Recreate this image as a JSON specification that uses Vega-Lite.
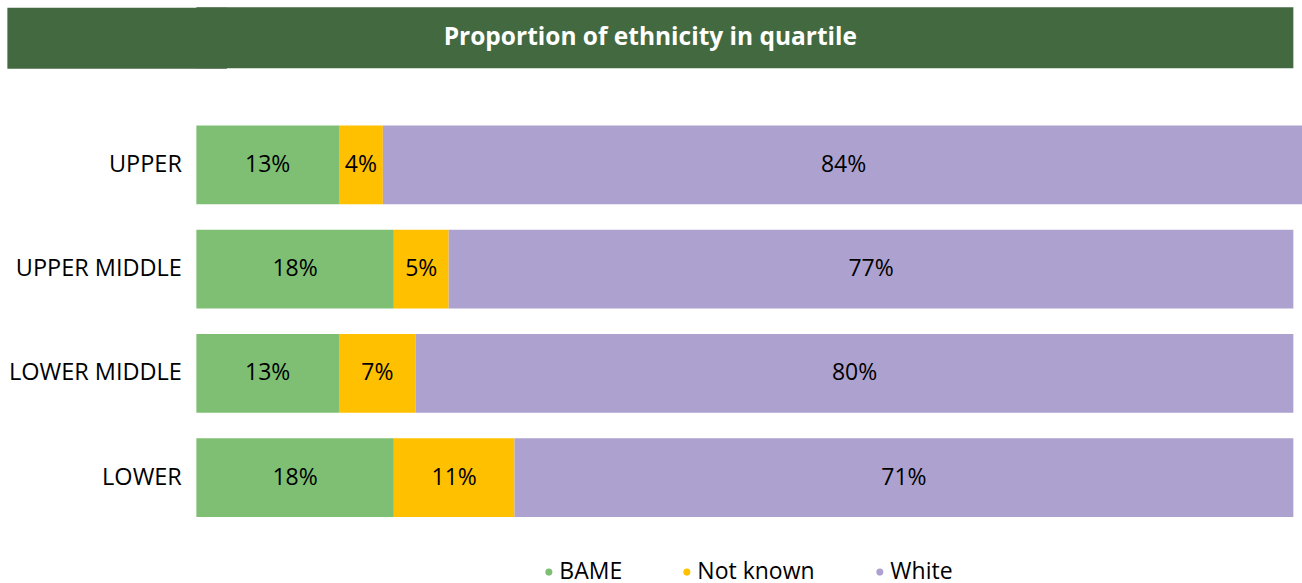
{
  "$schema": "https://vega.github.io/schema/vega-lite/v6.json",
  "padding": {"left": -5.63, "top": -5.63, "right": 0, "bottom": 0},
  "config": {
    "view": {"stroke": null},
    "font": "Open Sans",
    "concat": {"spacing": 30.37},
    "legend": {"layout": {"bottom": {"anchor": "middle"}}}
  },
  "vconcat": [
    {
      "width": 1097,
      "height": 61,
      "view": {"fill": "#436940", "stroke": null},
      "data": {"values": [{"title": "Proportion of ethnicity in quartile"}]},
      "mark": {"type": "text", "fontSize": 24.5, "fontWeight": "bold", "color": "#ffffff", "font": "Open Sans", "dx": -94.5},
      "encoding": {
        "text": {"field": "title"},
        "y": {
          "field": "title",
          "type": "nominal",
          "axis": {"title": null, "labels": false, "domain": false, "ticks": true, "tickSize": 158.5, "tickWidth": 61, "tickColor": "#436940", "tickCap": "square", "translate": 0}
        }
      }
    },
    {
      "width": 1097,
      "height": 417,
      "data": {"values": [
        {"quartile": "UPPER", "ethnicity": "BAME", "order": 1, "value": 0.13},
        {"quartile": "UPPER", "ethnicity": "Not known", "order": 2, "value": 0.04},
        {"quartile": "UPPER", "ethnicity": "White", "order": 3, "value": 0.84},
        {"quartile": "UPPER MIDDLE", "ethnicity": "BAME", "order": 1, "value": 0.18},
        {"quartile": "UPPER MIDDLE", "ethnicity": "Not known", "order": 2, "value": 0.05},
        {"quartile": "UPPER MIDDLE", "ethnicity": "White", "order": 3, "value": 0.77},
        {"quartile": "LOWER MIDDLE", "ethnicity": "BAME", "order": 1, "value": 0.13},
        {"quartile": "LOWER MIDDLE", "ethnicity": "Not known", "order": 2, "value": 0.07},
        {"quartile": "LOWER MIDDLE", "ethnicity": "White", "order": 3, "value": 0.80},
        {"quartile": "LOWER", "ethnicity": "BAME", "order": 1, "value": 0.18},
        {"quartile": "LOWER", "ethnicity": "Not known", "order": 2, "value": 0.11},
        {"quartile": "LOWER", "ethnicity": "White", "order": 3, "value": 0.71}
      ]},
      "transform": [
        {"stack": "value", "groupby": ["quartile"], "sort": [{"field": "order"}], "as": ["x0", "x1"]},
        {"calculate": "(datum.x0 + datum.x1) / 2", "as": "xmid"}
      ],
      "encoding": {
        "y": {
          "field": "quartile",
          "type": "nominal",
          "sort": ["UPPER", "UPPER MIDDLE", "LOWER MIDDLE", "LOWER"],
          "scale": {"paddingInner": 0.246, "paddingOuter": 0.123},
          "axis": {"title": null, "domain": false, "ticks": false, "labelFontSize": 23.5, "labelColor": "#000000", "labelPadding": 15, "labelFont": "Open Sans"}
        }
      },
      "layer": [
        {
          "mark": {"type": "bar"},
          "encoding": {
            "x": {"field": "x0", "type": "quantitative", "scale": {"domain": [0, 1], "nice": false}, "axis": null},
            "x2": {"field": "x1"},
            "color": {
              "field": "ethnicity",
              "type": "nominal",
              "scale": {"domain": ["BAME", "Not known", "White"], "range": ["#7fbf74", "#ffc000", "#ada2cf"]},
              "legend": {
                "title": null,
                "orient": "bottom",
                "direction": "horizontal",
                "symbolType": "circle",
                "symbolSize": 50,
                "labelFontSize": 23,
                "labelFont": "Open Sans",
                "labelColor": "#000000",
                "columnPadding": 53,
                "labelOffset": -1,
                "offset": 30
              }
            }
          }
        },
        {
          "mark": {"type": "text", "fontSize": 23, "color": "#000000", "font": "Open Sans"},
          "encoding": {
            "x": {"field": "xmid", "type": "quantitative"},
            "text": {"field": "value", "type": "quantitative", "format": ".0%"}
          }
        }
      ]
    }
  ]
}
